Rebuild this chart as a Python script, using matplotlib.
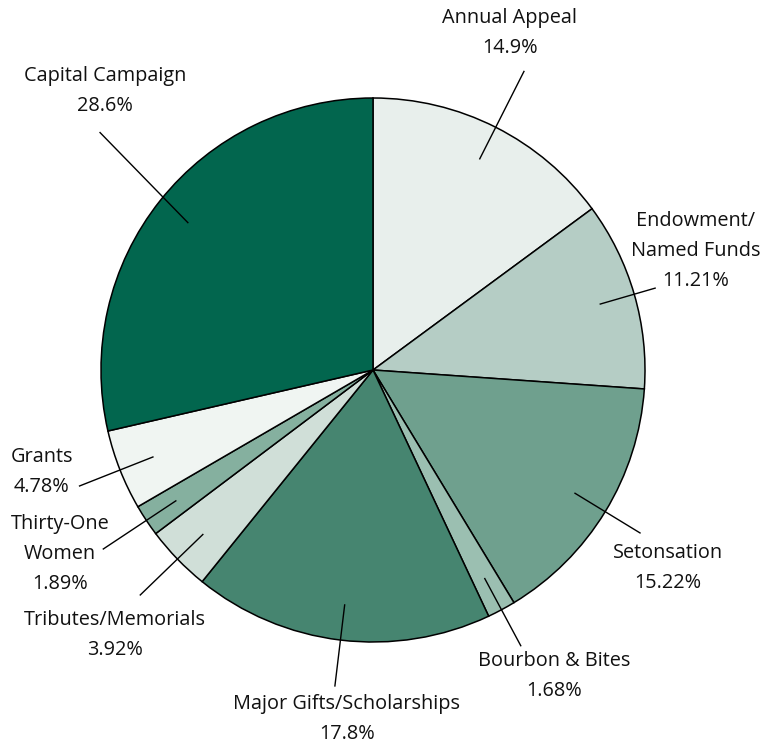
import numpy as np
import matplotlib
matplotlib.use("Agg")
import matplotlib.pyplot as plt

labels = ["Annual Appeal", "Endowment/\nNamed Funds", "Setonsation", "Bourbon & Bites",
          "Major Gifts/Scholarships", "Tributes/Memorials", "Thirty-One\nWomen", "Grants",
          "Capital Campaign"]
pct_text = ["14.9%", "11.21%", "15.22%", "1.68%", "17.8%", "3.92%", "1.89%", "4.78%", "28.6%"]
values = [14.9, 11.21, 15.22, 1.68, 17.8, 3.92, 1.89, 4.78, 28.6]
colors = ["#E8EFEC", "#B5CDC5", "#6FA08E", "#9BBFB1", "#468570", "#D0DFD8", "#85B09F",
          "#F0F5F2", "#02664E"]

W, H = 778, 744
fig = plt.figure(figsize=(W / 100, H / 100), dpi=100)
ax = fig.add_axes([0, 0, 1, 1])
cx, cy, R = 373, H - 370, 272
wedges, _ = ax.pie(values, colors=colors, startangle=90, counterclock=False,
                   center=(cx, cy), radius=R,
                   wedgeprops=dict(edgecolor="black", linewidth=1.1))
ax.set_xlim(0, W)
ax.set_ylim(0, H)
ax.axis("off")

# leader line outer radius fractions and label centres (pixels from top-left)
outer = [1.23, 1.08, 1.15, 1.15, 1.17, 1.19, 1.19, 1.16, 1.33]
shift = [0, 0, 0, 0, 0, 0, 0, 0, 2.5]
text_pos = [(510, 33), (696, 251), (668, 568), (554, 676), (347, 719), (115, 635),
            (60, 554), (42, 472), (105, 91)]

for w, lab, pt, o, s, (tx, ty) in zip(wedges, labels, pct_text, outer, shift, text_pos):
    ang = np.deg2rad((w.theta1 + w.theta2) / 2)
    ang2 = ang - np.deg2rad(s)
    x1, y1 = cx + 0.87 * R * np.cos(ang), cy + 0.87 * R * np.sin(ang)
    x2, y2 = cx + o * R * np.cos(ang2), cy + o * R * np.sin(ang2)
    ax.plot([x1, x2], [y1, y2], color="black", lw=1.0)
    ax.text(tx, H - ty, lab + "\n" + pt, ha="center", va="center", fontsize=14.3,
            family="Open Sans", color="#111111", linespacing=1.68)

fig.savefig("out.png", dpi=100)
